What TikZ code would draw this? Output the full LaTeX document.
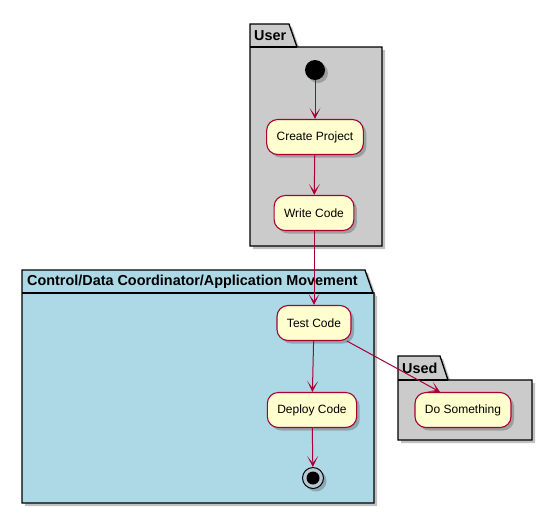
\documentclass[tikz,border=0pt]{standalone}
\usepackage{fontspec}
\setmainfont{Liberation Sans}
\usepackage{tikz}
\usetikzlibrary{arrows.meta,shadows}
\definecolor{actfill}{HTML}{FEFECE}
\definecolor{actline}{HTML}{A80036}
\definecolor{pkggrey}{HTML}{CBCBCB}
\definecolor{pkgblue}{HTML}{ADD8E6}
\definecolor{ringfill}{HTML}{B8C8D0}

\begin{document}
\begin{tikzpicture}[
  x=1pt,y=-1pt,
  act/.style={draw=actline,line width=1.1pt,fill=actfill,rounded corners=11pt,
              minimum height=35pt,inner xsep=10pt,
              font=\fontsize{12}{14}\selectfont,
              drop shadow={shadow xshift=3pt,shadow yshift=-3pt,opacity=.35,fill=black!70}},
  pkg/.style={draw=black,line width=1.3pt,
              drop shadow={shadow xshift=3pt,shadow yshift=-3pt,opacity=.35,fill=black!70}},
  pkgtitle/.style={anchor=west,inner sep=0pt,font=\fontsize{14.4}{16}\selectfont\bfseries},
  flow/.style={-{Stealth[length=11pt,width=11pt,inset=7pt]},draw=actline,line width=1pt},
]
\useasboundingbox (0,0) rectangle (551,515);

% packages
\path[pkg,fill=pkggrey] (250,24) -- (289,24) -- (297,47) -- (382,47) -- (382,246) -- (250,246) -- cycle;
\draw[line width=1.3pt] (250,47) -- (297,47);
\node[pkgtitle] (user) at (254,36) {User};

\path[pkg,fill=pkgblue] (22,270) -- (365,270) -- (373,293) -- (374,293) -- (374,503) -- (22,503) -- cycle;
\draw[line width=1.3pt] (22,293) -- (373,293);
\node[pkgtitle] (ctrl) at (27,282) {Control/Data Coordinator/Application Movement};

\path[pkg,fill=pkggrey] (398,356) -- (440,356) -- (448,380) -- (532,380) -- (532,440) -- (398,440) -- cycle;
\draw[line width=1.3pt] (398,380) -- (448,380);
\node[pkgtitle] (used) at (402,368) {Used};

% activities
\node[circle,fill=black,minimum size=20pt,inner sep=0pt,
      drop shadow={shadow xshift=3pt,shadow yshift=-3pt,opacity=.35,fill=black!70}] (start) at (315,70) {};
\node[act] (create) at (315,137) {Create Project};
\node[act] (write)  at (314,213) {Write Code};
\node[act] (test)   at (314,323) {Test Code};
\node[act] (deploy) at (312,410) {Deploy Code};
\node[act] (dosome) at (463,410) {Do Something};
\node[circle,draw=black,fill=ringfill,line width=1pt,minimum size=21pt,inner sep=0pt,
      drop shadow={shadow xshift=3pt,shadow yshift=-3pt,opacity=.35,fill=black!70}] (stop) at (313,478) {};
\fill (stop) circle (6.5);

\draw[flow] (start) -- (create);
\draw[flow] (create) -- (write);
\draw[flow] (write) -- (test);
\draw[flow] (test) -- (deploy);
\draw[flow] (deploy) -- (stop);
\draw[flow] (test) -- ([xshift=-23pt]dosome.north);
\end{tikzpicture}
\end{document}
